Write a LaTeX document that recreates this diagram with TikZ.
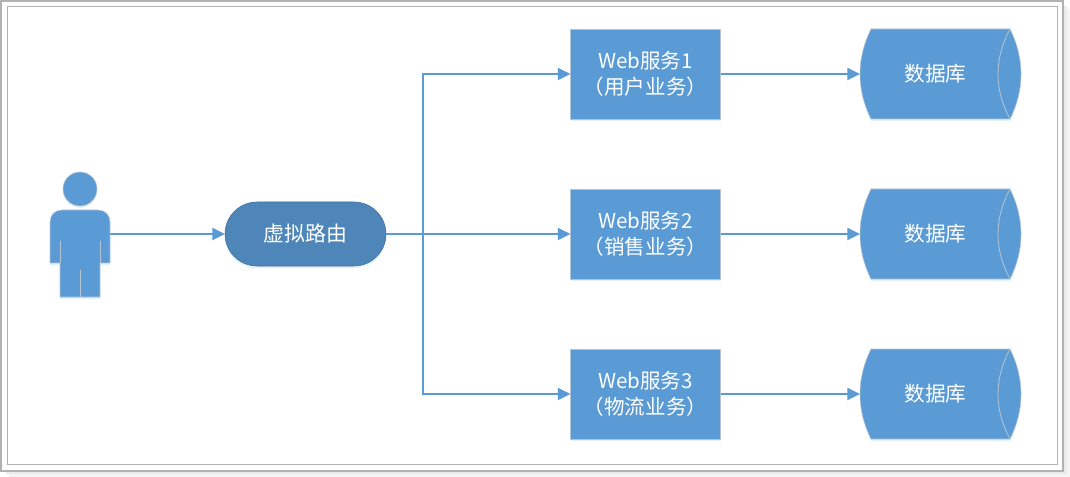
\documentclass[tikz,border=0pt]{standalone}
\usepackage{fontspec}
\setmainfont{Noto Sans CJK SC}
\usetikzlibrary{arrows.meta,shadows,shapes.misc}
\definecolor{boxblue}{HTML}{5B9BD5}
\definecolor{routerblue}{HTML}{4F86B9}
\definecolor{routeredge}{HTML}{41719C}
\definecolor{softedge}{HTML}{B4C4D4}
\definecolor{frameedge}{HTML}{B2B2B2}
\tikzset{
    softshadow/.style={drop shadow={shadow xshift=0pt,shadow yshift=-1.5pt,opacity=0.15,fill=boxblue}},
    webbox/.style={draw=softedge,fill=boxblue,text=white,minimum width=112.5pt,minimum height=67.5pt,align=center,font=\fontsize{15.4}{19}\selectfont,inner sep=0pt,outer sep=0pt,softshadow},
    dbtext/.style={text=white,minimum width=113.25pt,minimum height=67.5pt,font=\fontsize{15.5}{18}\selectfont,inner sep=0pt,outer sep=0pt},
    dbshape/.style={draw=softedge,fill=boxblue,softshadow},
    link/.style={draw=boxblue,line width=1.5pt,-{Triangle[length=9.5pt,width=9pt]}},
    bodyline/.style={draw=softedge,line width=0.6pt}
}
\begin{document}
\begin{tikzpicture}[x=0.75pt,y=-0.75pt]
        \useasboundingbox (0,0) rectangle (1070,477);

        % Draw the frame with its shadow
        \fill[black!4] (9,9) rectangle (1070,477);
        \fill[black!8] (6,6) rectangle (1067,474);
        \draw[frameedge,line width=1pt,fill=white] (1,1) rectangle (1063,471);
        \draw[frameedge,line width=0.75pt] (7,7) rectangle (1057,464);

        % Draw the user figure
        \draw[dbshape] (50,263) -- (50,222) .. controls (50,215) and (55,210) .. (62,210) -- (98,210) .. controls (105,210) and (110,215) .. (110,222) -- (110,263) -- (100,263) -- (100,297) -- (60,297) -- (60,263) -- cycle;
        \draw[dbshape] (80,189) circle[radius=17];
        \draw[bodyline] (60,241) -- (60,263);
        \draw[bodyline] (100,241) -- (100,263);
        \draw[bodyline] (80,270) -- (80,297);
        \node[minimum width=45pt,minimum height=94.5pt,inner sep=0pt,outer sep=0pt] (user) at (80,234) {};

        % Draw the router
        \node[rounded rectangle,draw=routeredge,fill=routerblue,text=white,minimum width=120.75pt,minimum height=48pt,inner sep=0pt,outer sep=0pt,font=\fontsize{15.7}{18}\selectfont,softshadow] (router) at (305.5,234) {虚拟路由};

        % Draw the web services
        \node[webbox] (web1) at (645.5,74) {Web服务1\\（用户业务）};
        \node[webbox] (web2) at (645.5,234) {Web服务2\\（销售业务）};
        \node[webbox] (web3) at (645.5,394) {Web服务3\\（物流业务）};

        % Draw the databases
        \draw[dbshape] (871,29) -- (1010,29) .. controls (1024.7,59) and (1024.7,89) .. (1010,119) -- (871,119) .. controls (856.3,89) and (856.3,59) .. (871,29) -- cycle;
        \draw[bodyline] (1010,29) .. controls (994,59) and (994,89) .. (1010,119);
        \node[dbtext] (db1) at (935.5,74) {数据库};

        \draw[dbshape] (871,189) -- (1010,189) .. controls (1024.7,219) and (1024.7,249) .. (1010,279) -- (871,279) .. controls (856.3,249) and (856.3,219) .. (871,189) -- cycle;
        \draw[bodyline] (1010,189) .. controls (994,219) and (994,249) .. (1010,279);
        \node[dbtext] (db2) at (935.5,234) {数据库};

        \draw[dbshape] (871,349) -- (1010,349) .. controls (1024.7,379) and (1024.7,409) .. (1010,439) -- (871,439) .. controls (856.3,409) and (856.3,379) .. (871,349) -- cycle;
        \draw[bodyline] (1010,349) .. controls (994,379) and (994,409) .. (1010,439);
        \node[dbtext] (db3) at (935.5,394) {数据库};

        % Draw the connections
        \coordinate (fork) at (422.5,234);
        \draw[link] (user.east) -- (router.west);
        \draw[link] (router.east) -- (web2.west);
        \draw[link] (fork) |- (web1.west);
        \draw[link] (fork) |- (web3.west);
        \draw[link] (web1.east) -- (db1.west);
        \draw[link] (web2.east) -- (db2.west);
        \draw[link] (web3.east) -- (db3.west);
    \end{tikzpicture}
\end{document}
